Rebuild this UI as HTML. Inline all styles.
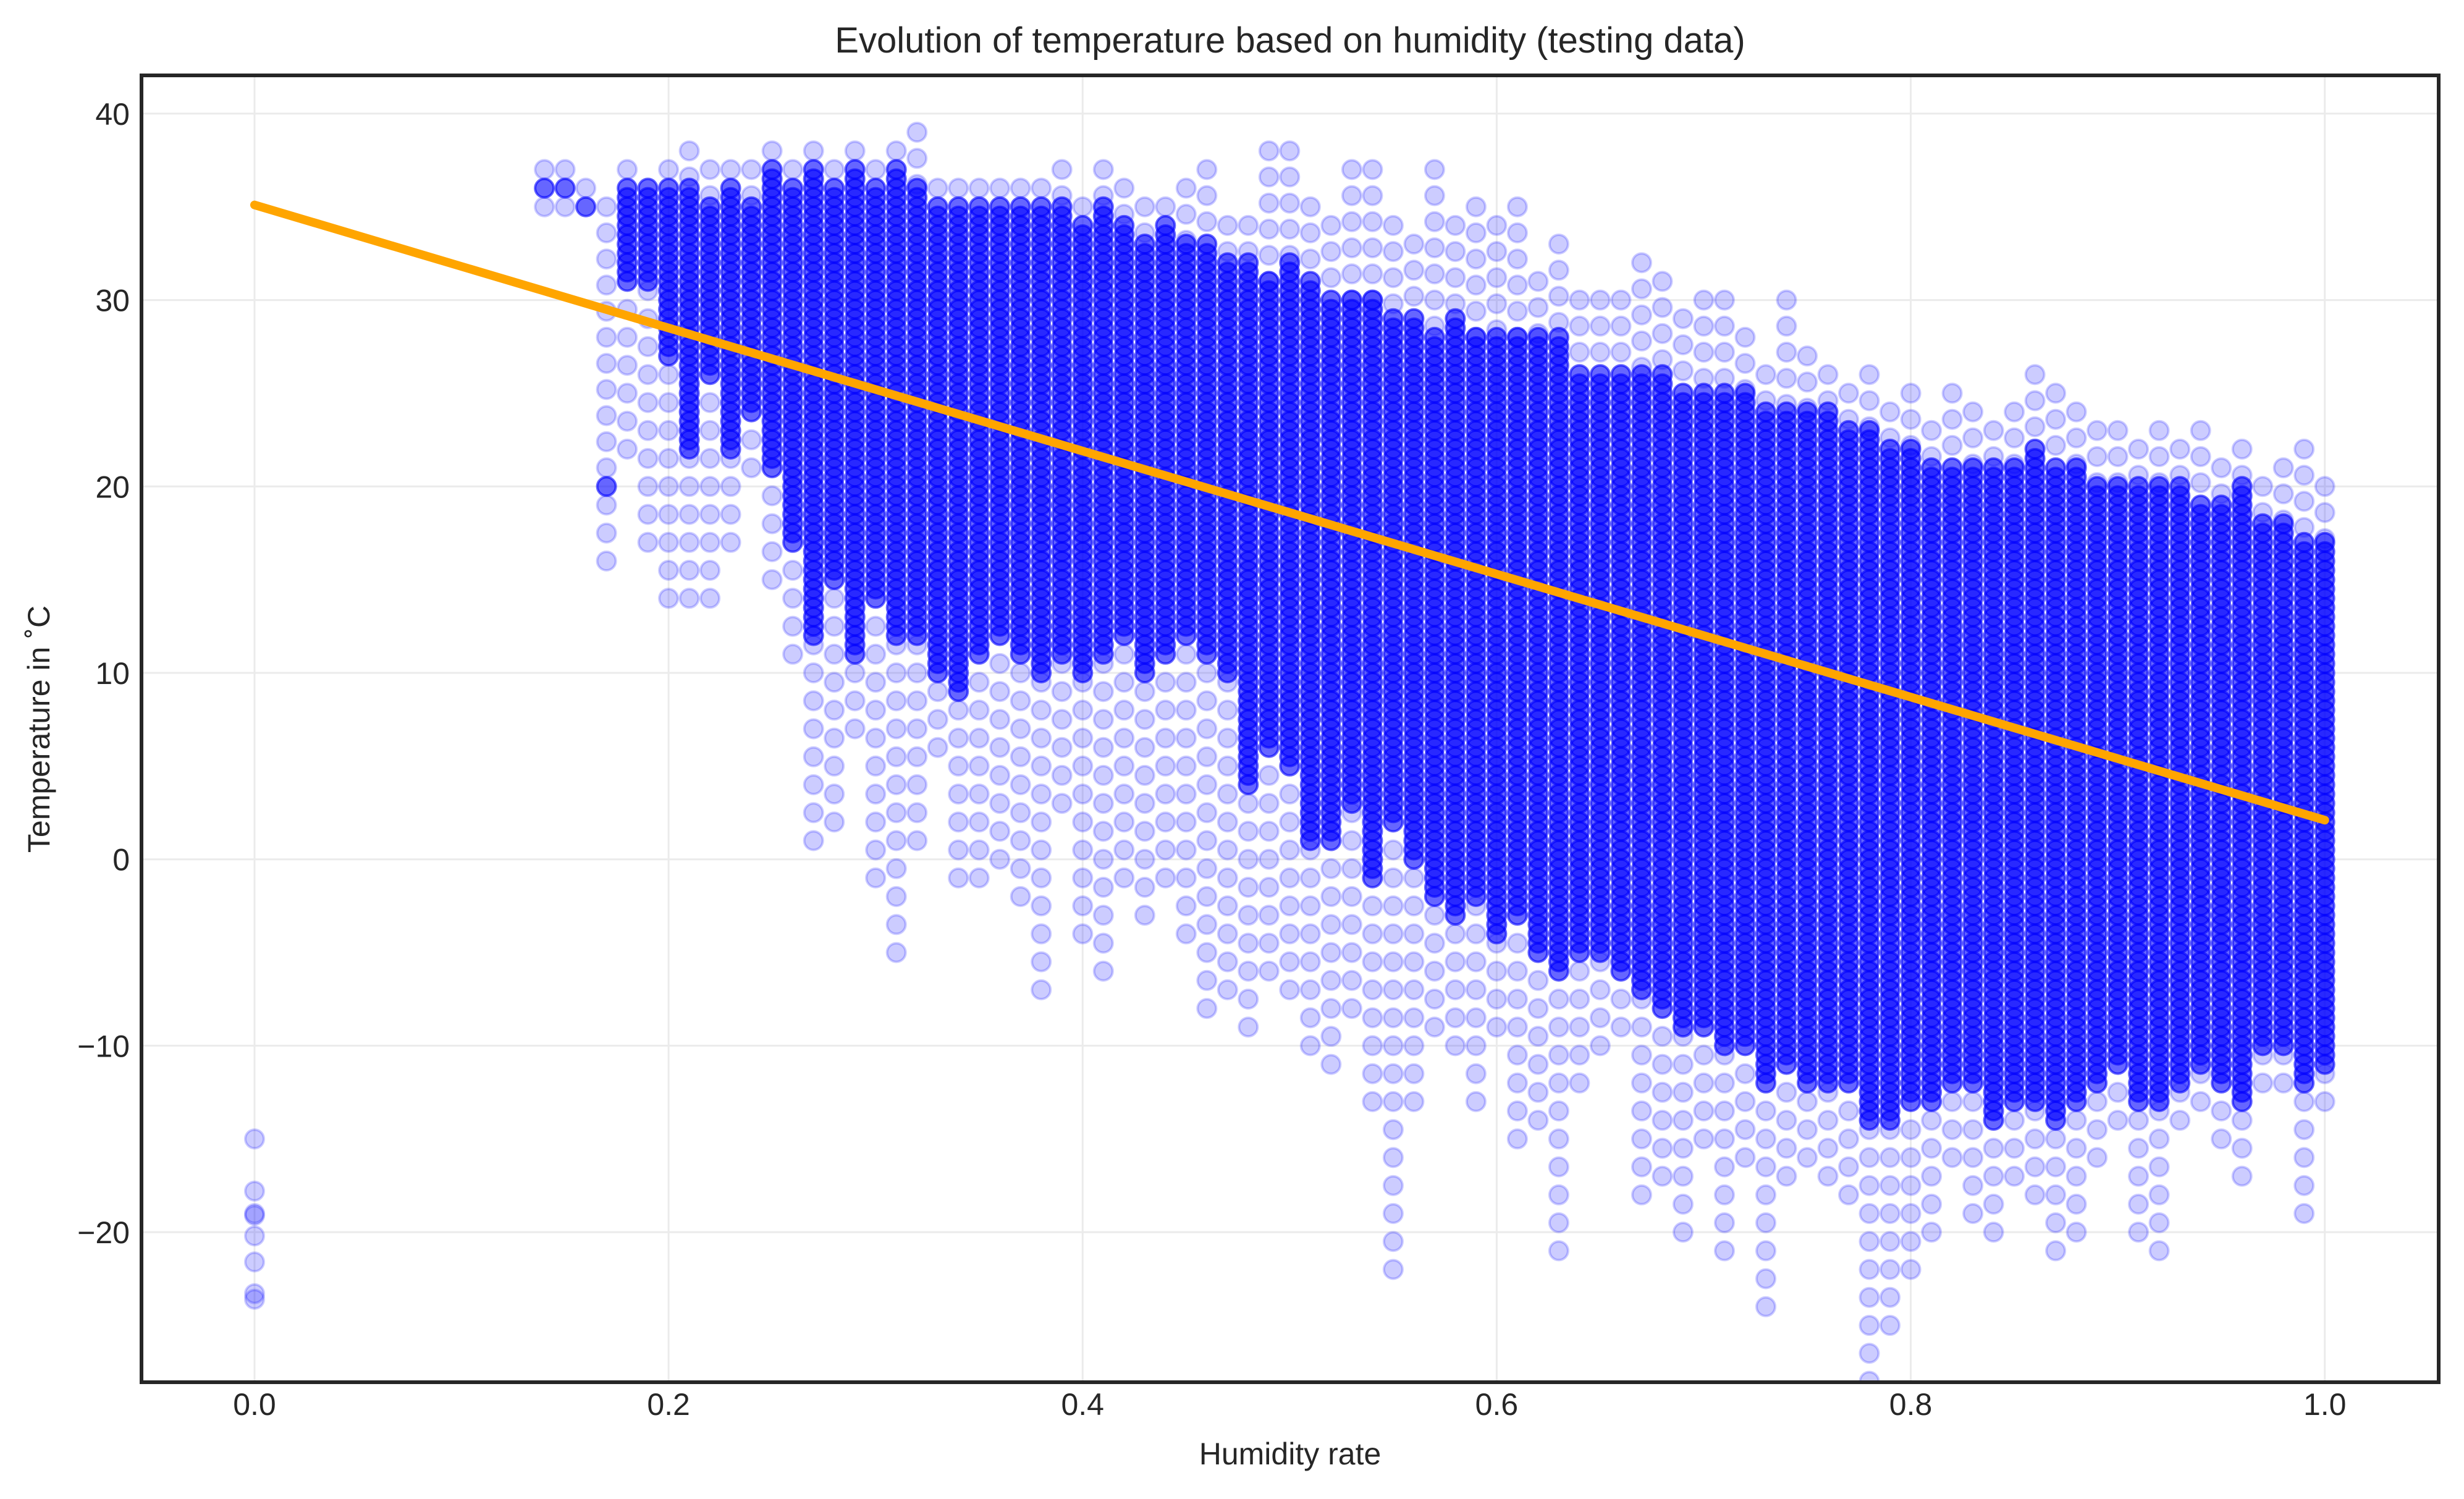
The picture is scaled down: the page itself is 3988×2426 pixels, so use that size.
<!DOCTYPE html>
<html><head><meta charset="utf-8"><style>
html,body{margin:0;padding:0;background:#fff;}
svg text{font-family:"Liberation Sans",Arial,sans-serif;fill:#262626;}
</style></head><body>
<svg id="chart" width="3988" height="2421" xmlns="http://www.w3.org/2000/svg">
<defs><clipPath id="clip"><rect x="229" y="122" width="3718" height="2115"/></clipPath></defs>
<rect x="0" y="0" width="3988" height="2421" fill="#fff"/>
<g id="grid"></g>
<g id="points" clip-path="url(#clip)"></g>
<g id="fit" clip-path="url(#clip)"></g>
<rect x="229" y="122" width="3718" height="2115" fill="none" stroke="#262626" stroke-width="6"/>
<g id="ticks"></g>
<text x="2088" y="85" font-size="58" text-anchor="middle">Evolution of temperature based on humidity (testing data)</text>
<text x="2088" y="2370" font-size="50" text-anchor="middle">Humidity rate</text>
<text x="0" y="0" font-size="50" text-anchor="middle" transform="translate(80,1180) rotate(-90)">Temperature in ˚C</text>
</svg>
<script>
const xTicks=[0.0,0.2,0.4,0.6,0.8,1.0];
const xTickLabels=["0.0","0.2","0.4","0.6","0.8","1.0"];
const yTicks=[-20,-10,0,10,20,30,40];
const yTickLabels=["\u221220","\u221210","0","10","20","30","40"];
const zeroHumidityTemps=[-15,-17.8,-19,-19.1,-20.2,-21.6,-23.3,-23.6];
const humidity=[0.14,0.15,0.16,0.17,0.18,0.19,0.20,0.21,0.22,0.23,0.24,0.25,0.26,0.27,0.28,0.29,0.30,0.31,0.32,0.33,0.34,0.35,0.36,0.37,0.38,0.39,0.40,0.41,0.42,0.43,0.44,0.45,0.46,0.47,0.48,0.49,0.50,0.51,0.52,0.53,0.54,0.55,0.56,0.57,0.58,0.59,0.60,0.61,0.62,0.63,0.64,0.65,0.66,0.67,0.68,0.69,0.70,0.71,0.72,0.73,0.74,0.75,0.76,0.77,0.78,0.79,0.80,0.81,0.82,0.83,0.84,0.85,0.86,0.87,0.88,0.89,0.90,0.91,0.92,0.93,0.94,0.95,0.96,0.97,0.98,0.99,1.00];
const outerLow=[35,35,35,16,22,17,14,14,14,17,21,15,11,1,2,7,-1,-5,1,6,-1,-1,0,-2,-7,3,-4,-6,-1,-3,-1,-4,-8,-7,-9,-6,-7,-10,-11,-8,-13,-22,-13,-9,-10,-13,-9,-15,-14,-21,-12,-10,-9,-18,-17,-20,-15,-21,-16,-24,-17,-16,-17,-18,-28,-25,-22,-20,-16,-19,-20,-17,-18,-21,-20,-16,-14,-20,-21,-14,-13,-15,-17,-12,-12,-19,-13];
const coreLow=[36,36,35,20,31,31,27,22,26,22,24,21,17,12,15,11,14,12,12,10,9,11,12,11,10,11,10,11,12,10,11,12,11,10,4,6,5,1,1,3,-1,2,0,-2,-3,-2,-4,-3,-5,-6,-5,-5,-6,-7,-8,-9,-9,-10,-10,-12,-11,-12,-12,-12,-14,-14,-13,-13,-12,-12,-14,-13,-13,-14,-13,-12,-11,-13,-13,-12,-11,-12,-13,-10,-10,-12,-11];
const coreHigh=[36,36,35,20,36,36,36,36,35,36,35,37,36,37,36,37,36,37,36,35,35,35,35,35,35,35,34,35,34,33,34,33,33,32,32,31,32,31,30,30,30,29,29,28,29,28,28,28,28,28,26,26,26,26,26,25,25,25,25,24,24,24,24,23,23,22,22,21,21,21,21,21,22,21,21,20,20,20,20,20,19,19,20,18,18,17,17];
const outerHigh=[37,37,36,35,37,36,37,38,37,37,37,38,37,38,37,38,37,38,39,36,36,36,36,36,36,37,35,37,36,35,35,36,37,34,34,38,38,35,34,37,37,34,33,37,34,35,34,35,31,33,30,30,30,32,31,29,30,30,28,26,30,27,26,25,26,24,25,23,25,24,23,24,26,25,24,23,23,22,23,22,23,21,22,20,21,22,20];
const fitX=[0,1];
const fitY=[35.1,2.1];

const NS="http://www.w3.org/2000/svg";
const X0=229,X1=3947,Y0=122,Y1=2237;
const xMin=-0.0546,xMax=1.055,yMin=-28.05,yMax=42.05;
function sx(v){return X0+(v-xMin)/(xMax-xMin)*(X1-X0);}
function sy(v){return Y1-(v-yMin)/(yMax-yMin)*(Y1-Y0);}
const grid=document.getElementById('grid'),ticks=document.getElementById('ticks'),pts=document.getElementById('points'),fit=document.getElementById('fit');
xTicks.forEach((t,i)=>{
 const l=document.createElementNS(NS,'line');
 l.setAttribute('x1',sx(t));l.setAttribute('x2',sx(t));l.setAttribute('y1',Y0);l.setAttribute('y2',Y1);
 l.setAttribute('stroke','#ebebeb');l.setAttribute('stroke-width','3');
 
 
 grid.appendChild(l);
 const tx=document.createElementNS(NS,'text');
 tx.setAttribute('x',sx(t));tx.setAttribute('y',2290);tx.setAttribute('font-size','50');tx.setAttribute('text-anchor','middle');
 tx.textContent=xTickLabels[i];
 
 
 ticks.appendChild(tx);
});
yTicks.forEach((t,i)=>{
 const l=document.createElementNS(NS,'line');
 l.setAttribute('x1',X0);l.setAttribute('x2',X1);l.setAttribute('y1',sy(t));l.setAttribute('y2',sy(t));
 l.setAttribute('stroke','#ebebeb');l.setAttribute('stroke-width','3');
 
 
 grid.appendChild(l);
 const tx=document.createElementNS(NS,'text');
 tx.setAttribute('x',210);tx.setAttribute('y',sy(t)+18);tx.setAttribute('font-size','50');tx.setAttribute('text-anchor','end');
 tx.textContent=yTickLabels[i];
 
 
 ticks.appendChild(tx);
});
function dot(h,t,a){
 const c=document.createElementNS(NS,'circle');
 c.setAttribute('cx',sx(h).toFixed(1));c.setAttribute('cy',sy(t).toFixed(1));c.setAttribute('r','15');
 c.setAttribute('fill','rgba(0,0,255,'+a+')');c.setAttribute('stroke','rgba(0,0,255,'+a+')');c.setAttribute('stroke-width','4');
 
 
 pts.appendChild(c);
}
zeroHumidityTemps.forEach(t=>dot(0,t,0.2));
humidity.forEach((h,i)=>{
 const ol=outerLow[i],cl=coreLow[i],ch=coreHigh[i],oh=outerHigh[i];
 for(let t=ol;t<cl;t+=1.5)dot(h,t,0.2);
 for(let t=cl;t<=ch;t+=0.5)dot(h,t,0.6);
 for(let t=oh;t>ch;t-=1.4)dot(h,t,0.2);
});
const ln=document.createElementNS(NS,'line');
ln.setAttribute('x1',sx(fitX[0]));ln.setAttribute('y1',sy(fitY[0]));ln.setAttribute('x2',sx(fitX[1]));ln.setAttribute('y2',sy(fitY[1]));
ln.setAttribute('stroke','#ffa500');ln.setAttribute('stroke-width','14');ln.setAttribute('stroke-linecap','round');


fit.appendChild(ln);
</script>
</body></html>
